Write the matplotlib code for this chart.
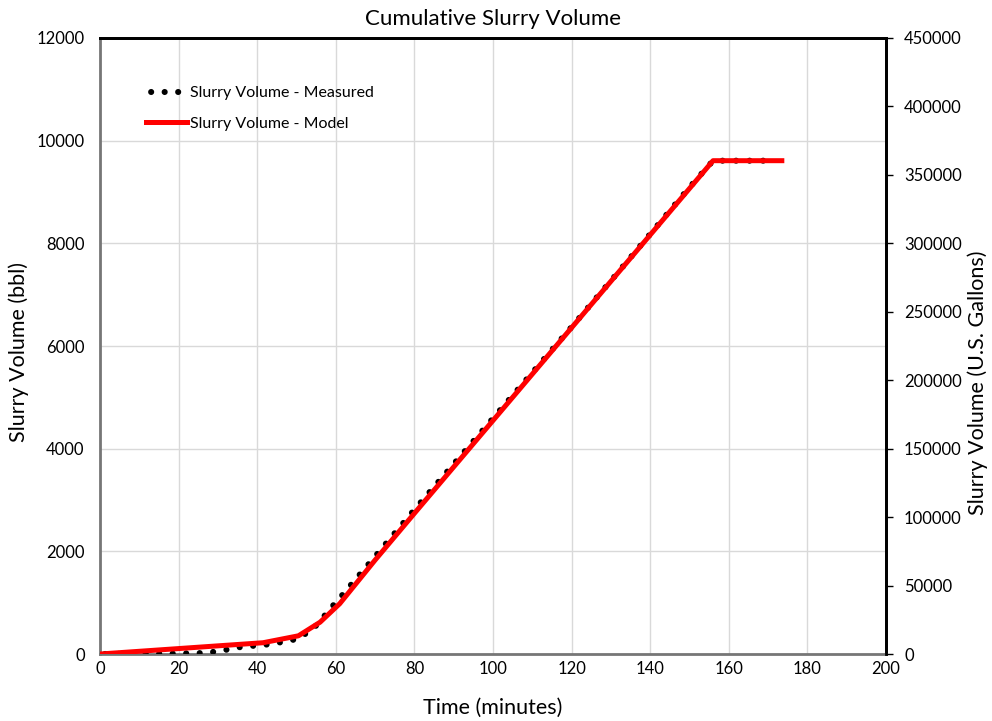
import matplotlib
matplotlib.use("Agg")
import matplotlib.pyplot as plt

plt.rcParams['font.family'] = ['Lato', 'DejaVu Sans']

# measured cumulative slurry volume (bbl) vs time (min)
meas_time = [0, 10, 20, 27, 30, 33, 36, 39, 42, 45, 48, 50, 52, 54, 56, 58, 60,
             70, 80, 90, 100, 110, 120, 130, 140, 150, 156, 160, 165, 172]
meas_vol = [0, 5, 10, 20, 55, 95, 140, 160, 180, 215, 260, 290, 380, 490, 620, 840, 1000,
            1900, 2810, 3700, 4590, 5480, 6370, 7270, 8180, 9090, 9610, 9610, 9610, 9610]

# model prediction
model_time = [0, 41.5, 50.5, 56, 61, 70, 80, 156, 173.5]
model_vol = [0, 220, 355, 620, 980, 1830, 2740, 9610, 9610]

fig = plt.figure(figsize=(9.92, 7.21), dpi=100)
ax = fig.add_axes([0.1008, 0.0929, 0.7923, 0.8544])

# round dots: tiny dash + round cap, offset so the legend shows three dots
ax.plot(meas_time, meas_vol, color='black', linewidth=4.4,
        linestyle=(1.37, (0.01, 2.2)), dash_capstyle='round',
        label='Slurry Volume - Measured', zorder=3)
ax.plot(model_time, model_vol, color='#ff0000', linewidth=3.6,
        label='Slurry Volume - Model', zorder=4)

ax.set_xlim(0, 200)
ax.set_ylim(0, 12000)
ax.set_xticks(range(0, 201, 20))
ax.set_yticks(range(0, 12001, 2000))
ax.grid(True, color='#d9d9d9', linewidth=1)
ax.set_axisbelow(True)
ax.tick_params(axis='y', length=0, labelsize=12, pad=11)
ax.tick_params(axis='x', length=0, labelsize=12, pad=5)

for side in ['left', 'bottom']:
    ax.spines[side].set_color('#767676')
    ax.spines[side].set_linewidth(2)
for side in ['top', 'right']:
    ax.spines[side].set_color('black')
    ax.spines[side].set_linewidth(2)

ax.set_xlabel('Time (minutes)', fontsize=15.5, labelpad=15)
ax.set_ylabel('Slurry Volume (bbl)', fontsize=15.5, va='center')
ax.yaxis.set_label_coords(-0.1035, 0.49)
ax.set_title('Cumulative Slurry Volume', fontsize=16, pad=9)

leg = ax.legend(loc='upper left', bbox_to_anchor=(0.04, 0.945), frameon=False,
                fontsize=11.5, handlelength=2.6, handletextpad=0.15, labelspacing=1.0)

# right axis in gallons
ax2 = ax.twinx()
ax2.set_ylim(0, 450000)
ax2.set_yticks(range(0, 450001, 50000))
ax2.tick_params(axis='y', direction='out', length=5, width=1, labelsize=12, pad=8)
for side in ['top', 'right']:
    ax2.spines[side].set_color('black')
    ax2.spines[side].set_linewidth(2)
ax2.spines['left'].set_visible(False)
ax2.spines['bottom'].set_visible(False)
ax2.set_ylabel('Slurry Volume (U.S. Gallons)', fontsize=15.5, va='center')
ax2.yaxis.set_label_coords(1.117, 0.44)

fig.savefig('out.png', dpi=100)
